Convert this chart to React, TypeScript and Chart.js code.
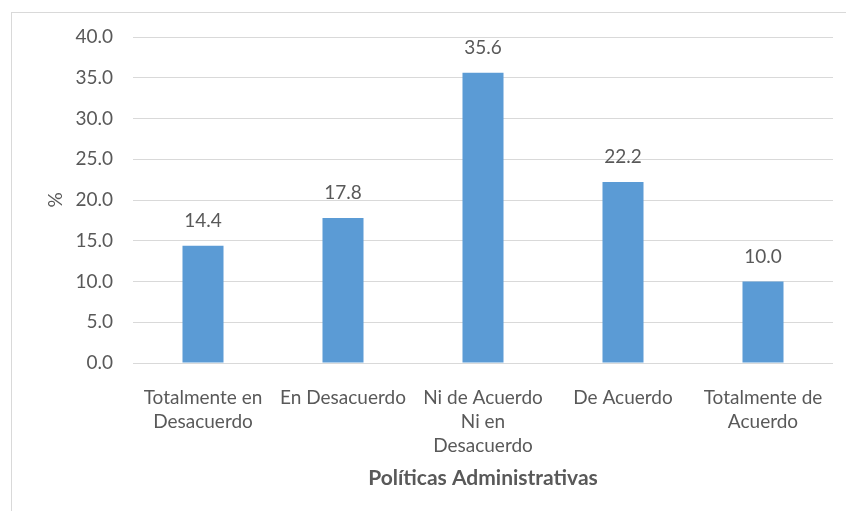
import React, { useEffect, useRef } from "react";
import { Chart, registerables } from "chart.js";

Chart.register(...registerables);

const categories: string[][] = [
  ["Totalmente en", "Desacuerdo"],
  ["En Desacuerdo"],
  ["Ni de Acuerdo", "Ni en", "Desacuerdo"],
  ["De Acuerdo"],
  ["Totalmente de", "Acuerdo"],
];
const values: number[] = [14.4, 17.8, 35.6, 22.2, 10.0];
const yMin = 0;
const yMax = 40;
const yStep = 5;
const xTitle = "Políticas Administrativas";
const yTitle = "%";

const FONT = "Lato, 'Liberation Sans', sans-serif";
const TEXT = "#595959";
const GRID = "#d9d9d9";
const BAR = "#5B9BD5";

const labelPlugin = {
  id: "barLabels",
  afterDatasetsDraw(chart: any) {
    const ctx = chart.ctx;
    const meta = chart.getDatasetMeta(0);
    ctx.save();
    ctx.font = `19px ${FONT}`;
    ctx.fillStyle = TEXT;
    ctx.textAlign = "center";
    ctx.textBaseline = "middle";
    meta.data.forEach((bar: any, i: number) => {
      const v = chart.data.datasets[0].data[i] as number;
      ctx.fillText(v.toFixed(1), bar.x, bar.y - 25);
    });
    ctx.restore();
  },
};

export default function App() {
  const ref = useRef<HTMLCanvasElement | null>(null);
  useEffect(() => {
    if (!ref.current) return;
    const chart = new Chart(ref.current, {
      type: "bar",
      data: {
        labels: categories,
        datasets: [
          {
            data: values,
            backgroundColor: BAR,
            borderWidth: 0,
            categoryPercentage: 1,
            barPercentage: 0.293,
          },
        ],
      },
      options: {
        responsive: false,
        animation: false,
        layout: { padding: { left: 0, right: 13, top: 37, bottom: 0 } },
        plugins: {
          legend: { display: false },
          tooltip: { enabled: false },
        },
        scales: {
          x: {
            grid: { display: false },
            border: { display: false },
            ticks: {
              color: TEXT,
              font: { family: FONT, size: 19, lineHeight: 1.27 },
              padding: 15,
              maxRotation: 0,
              autoSkip: false,
            },
            title: {
              display: true,
              text: xTitle,
              color: TEXT,
              font: { family: FONT, size: 21, weight: "bold", lineHeight: 1.2 },
              padding: { top: 0, bottom: 20 },
            },
            afterFit: (s: any) => {
              s.height = 148;
            },
          },
          y: {
            min: yMin,
            max: yMax,
            grid: { color: GRID, lineWidth: 1, drawTicks: false },
            border: { display: false },
            ticks: {
              stepSize: yStep,
              color: TEXT,
              font: { family: FONT, size: 19 },
              padding: 20,
              callback: (v: any) => Number(v).toFixed(1),
            },
            title: {
              display: true,
              text: yTitle,
              color: TEXT,
              font: { family: FONT, size: 19, lineHeight: 1.2 },
              padding: { top: 44, bottom: 0 },
            },
            afterFit: (s: any) => {
              s.width = 133;
            },
          },
        },
      },
      plugins: [labelPlugin],
    });
    return () => chart.destroy();
  }, []);

  return (
    <div
      style={{
        position: "fixed",
        left: 0,
        top: 0,
        width: 846,
        height: 511,
        background: "#fff",
        overflow: "hidden",
      }}
    >
      <div
        style={{
          position: "absolute",
          left: 11,
          top: 12,
          width: 900,
          height: 600,
          border: `1px solid ${GRID}`,
          boxSizing: "border-box",
        }}
      />
      <canvas
        ref={ref}
        width={846}
        height={511}
        style={{ position: "absolute", left: 0, top: 0, width: 846, height: 511 }}
      />
    </div>
  );
}
